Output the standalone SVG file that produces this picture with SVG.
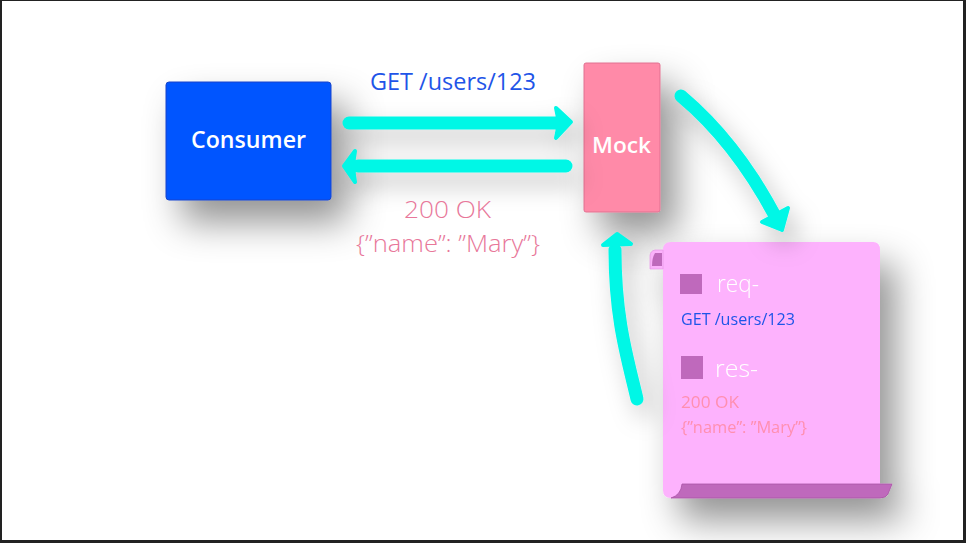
<svg xmlns="http://www.w3.org/2000/svg" width="966" height="543" viewBox="0 0 966 543">
  <defs>
    <filter id="shadow" x="-60%" y="-60%" width="240%" height="240%">
      <feDropShadow dx="16" dy="22" stdDeviation="18" flood-color="#000" flood-opacity="0.42"/>
    </filter>
    <filter id="shadowS" x="-40%" y="-40%" width="200%" height="200%">
      <feDropShadow dx="8" dy="12" stdDeviation="12" flood-color="#000" flood-opacity="0.25"/>
    </filter>
    <style>
      .lbl { font-family: "Open Sans", "Noto Sans", sans-serif; }
      .arrow { fill: none; stroke: #05F7E6; stroke-width: 13; stroke-linecap: round; stroke-linejoin: round; }
      .head { fill: #05F7E6; stroke: #05F7E6; stroke-width: 4; stroke-linejoin: round; }
    </style>
  </defs>
  <rect x="0" y="0" width="966" height="543" fill="#ffffff"/>

  <g id="consumer">
    <rect x="166" y="82" width="165" height="118" rx="3" fill="#0055FF" stroke="#1a45c8" stroke-width="1" filter="url(#shadow)"/>
    <text class="lbl" x="248.5" y="148" font-size="23" font-weight="600" fill="#ffffff" text-anchor="middle" textLength="115" lengthAdjust="spacingAndGlyphs">Consumer</text>
  </g>

  <g id="mock">
    <rect x="584" y="63" width="76" height="149" rx="2" fill="#FF8AA8" stroke="#e07090" stroke-width="1" filter="url(#shadow)"/>
    <text class="lbl" x="621.5" y="153" font-size="22" font-weight="600" fill="#ffffff" text-anchor="middle" textLength="59" lengthAdjust="spacingAndGlyphs">Mock</text>
  </g>

  <g id="scroll" filter="url(#shadow)">
    <path d="M663,250 Q663,242 671,242 L873,242 Q880,242 880,250 L880,490 L663,490 Z" fill="#FDB2FD"/>
    <path d="M650,256 Q650,251 655,250 L663,250 L663,269 L650,269 Z" fill="#FDB2FD" stroke="#e79ae7" stroke-width="0.8"/>
    <path d="M655,253 L662,253 L662,266 L652,266 Q652,258 655,253 Z" fill="#BF69BC"/>
    <path d="M663,480 L663,490 Q663,498 671,498 L682,498 L682,480 Z" fill="#FDB2FD"/>
    <path d="M682,484 L892,484 L888,494 Q886,498 880,498 L671,498 Q681,495 682,484 Z" fill="#BF69BC" stroke="#a954a6" stroke-width="0.8"/>
    <rect x="680" y="274" width="22" height="20" fill="#BF69BC"/>
    <text class="lbl" x="717" y="292" font-size="23" font-weight="300" fill="#ffffff" textLength="42" lengthAdjust="spacingAndGlyphs">req-</text>
    <text class="lbl" x="681" y="325" font-size="16" fill="#1F55E8" textLength="114" lengthAdjust="spacingAndGlyphs">GET /users/123</text>
    <rect x="681" y="356" width="22" height="23" fill="#BF69BC"/>
    <text class="lbl" x="715" y="377" font-size="23" font-weight="300" fill="#ffffff" textLength="43" lengthAdjust="spacingAndGlyphs">res-</text>
    <text class="lbl" x="681" y="408" font-size="16.5" fill="#FF8FB0" textLength="58" lengthAdjust="spacingAndGlyphs">200 OK</text>
    <text class="lbl" x="681" y="433" font-size="15.5" fill="#FF8FB0" textLength="126" lengthAdjust="spacingAndGlyphs">{”name”: ”Mary”}</text>
  </g>

  <g id="connectors" filter="url(#shadowS)">
    <line class="arrow" x1="349" y1="123" x2="558" y2="123"/>
    <path class="head" d="M556,108 L571,122 L556,138 Q560,123 556,108 Z"/>
    <line class="arrow" x1="566" y1="166" x2="358" y2="166"/>
    <path class="head" d="M355,151 L344,166 L355,182 Q352,166 355,151 Z"/>
    <path class="arrow" d="M681,96 C712,122 745,160 774,214"/>
    <path class="head" d="M762,222 L788,208 L782,230 Z"/>
    <path class="arrow" d="M637,399 C628,360 615,320 615,250"/>
    <path class="head" d="M603,245 L617,234 L631,244 Z"/>
  </g>

  <g id="labels">
    <text class="lbl" x="453" y="90" font-size="23" fill="#1F55E8" text-anchor="middle" textLength="166" lengthAdjust="spacingAndGlyphs">GET /users/123</text>
    <text class="lbl" x="447.5" y="218" font-size="23.5" font-weight="300" fill="#E8779A" text-anchor="middle" textLength="87" lengthAdjust="spacingAndGlyphs">200 OK</text>
    <text class="lbl" x="448" y="252" font-size="23.5" font-weight="300" fill="#E8779A" text-anchor="middle" textLength="184" lengthAdjust="spacingAndGlyphs">{”name”: ”Mary”}</text>
  </g>

  <g id="frame" fill="#222222">
    <rect x="0" y="0" width="966" height="1"/>
    <rect x="0" y="0" width="2" height="543"/>
    <rect x="963" y="0" width="3" height="543"/>
    <rect x="0" y="540" width="966" height="3"/>
  </g>
</svg>
